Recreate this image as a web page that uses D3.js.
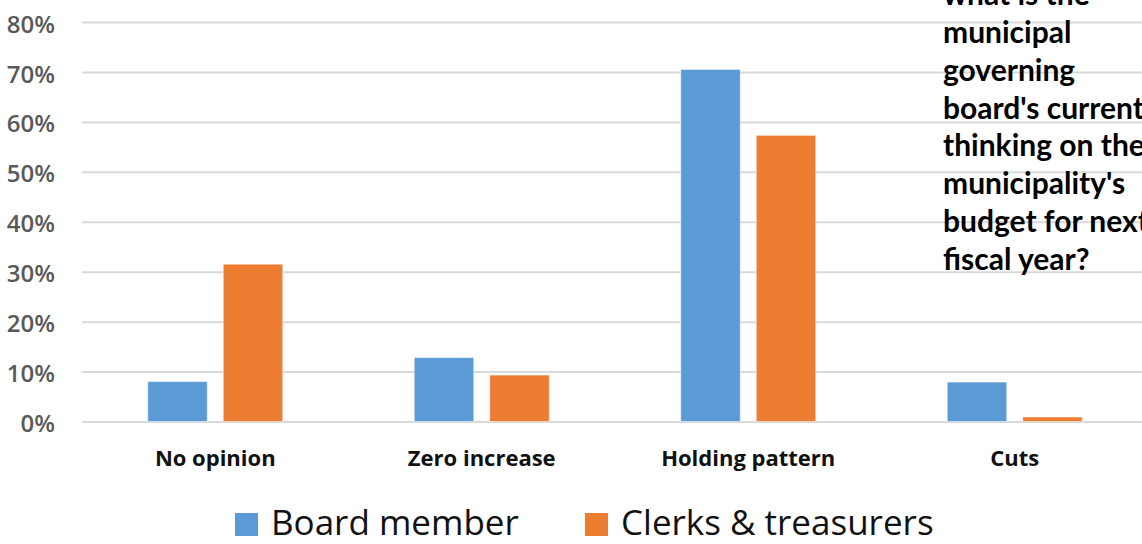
<!DOCTYPE html>
<html>
<head>
<meta charset="utf-8">
<script src="https://cdn.jsdelivr.net/npm/d3@7"></script>
<style>
  body { margin: 0; background: #fff; overflow: hidden; }
  svg { display: block; }
  .grid line { stroke: #d9d9d9; stroke-width: 2; }
  .grid path { display: none; }
  .grid text { font-family: "Open Sans", sans-serif; font-weight: 600; font-size: 24px; fill: #595959; }
</style>
</head>
<body>
<div id="chart"></div>
<script>
// data
var categories = ["No opinion", "Zero increase", "Holding pattern", "Cuts"];
var series = ["Board member", "Clerks & treasurers"];
var boardMember = [8.0, 12.8, 70.5, 7.9];
var clerksTreasurers = [31.5, 9.3, 57.3, 0.9];
var yTicks = [0, 10, 20, 30, 40, 50, 60, 70, 80];
var titleLines = ["what is the", "municipal", "governing", "board's current",
                  "thinking on the", "municipality's", "budget for next", "fiscal year?"];
var colors = ["#5b9bd5", "#ed7d31"];

var W = 1142, H = 544;
var margin = {top: 22, left: 82, bottom: 122.5};
var plotRight = 1148;

var svg = d3.select("#chart").append("svg")
    .attr("width", W)
    .attr("height", H);

var y = d3.scaleLinear()
    .domain([0, 80])
    .range([H - margin.bottom, margin.top]);

var x0 = d3.scaleBand()
    .domain(categories)
    .range([margin.left, plotRight]);

var x1 = d3.scaleBand()
    .domain(series)
    .range([0, 135])
    .paddingInner(16 / 75.5);

// gridlines + y labels
var yAxis = d3.axisLeft(y)
    .tickValues(yTicks)
    .tickSize(-(W - margin.left + 10))
    .tickPadding(27)
    .tickFormat(function(d) { return d + "%"; });

svg.append("g").attr("class", "grid")
    .attr("transform", "translate(" + margin.left + ",0)")
    .call(yAxis)
    .selectAll("text").attr("dy", "0.42em");

// bars
var groups = svg.append("g").attr("class", "bars").selectAll("g")
    .data(categories)
  .enter().append("g")
    .attr("transform", function(d) {
      return "translate(" + (x0(d) + (x0.bandwidth() - 135) / 2) + ",0)";
    });

groups.selectAll("rect")
    .data(function(d, i) {
      return [
        {s: series[0], v: boardMember[i], c: colors[0]},
        {s: series[1], v: clerksTreasurers[i], c: colors[1]}
      ];
    })
  .enter().append("rect")
    .attr("x", function(d) { return x1(d.s); })
    .attr("width", x1.bandwidth())
    .attr("y", function(d) { return y(d.v); })
    .attr("height", function(d) { return y(0) - y(d.v); })
    .attr("fill", function(d) { return d.c; })
    .attr("stroke", "#fff")
    .attr("stroke-opacity", 0.5)
    .attr("stroke-width", 1);

// category labels
svg.append("g").selectAll("text")
    .data(categories)
  .enter().append("text")
    .attr("x", function(d) { return x0(d) + x0.bandwidth() / 2; })
    .attr("y", 466)
    .attr("text-anchor", "middle")
    .attr("font-family", "Open Sans, sans-serif")
    .attr("font-weight", "bold")
    .attr("font-size", "22px")
    .attr("fill", "#111")
    .text(function(d) { return d; });

// legend
var legendX = [235, 585];
var legend = svg.append("g").selectAll("g")
    .data(series)
  .enter().append("g")
    .attr("transform", function(d, i) { return "translate(" + legendX[i] + ",0)"; });

legend.append("rect")
    .attr("x", 0).attr("y", 513)
    .attr("width", 23).attr("height", 23)
    .attr("fill", function(d, i) { return colors[i]; });

legend.append("text")
    .attr("x", 36).attr("y", 535)
    .attr("font-family", "Open Sans, sans-serif")
    .attr("font-size", "35px")
    .attr("fill", "#111")
    .text(function(d) { return d; });

// title (question) on the right
svg.append("g").selectAll("text")
    .data(titleLines)
  .enter().append("text")
    .attr("x", 943)
    .attr("y", function(d, i) { return 5 + i * 37.86; })
    .attr("font-family", "Lato, sans-serif")
    .attr("font-weight", "bold")
    .attr("font-size", "30px")
    .attr("fill", "#000")
    .text(function(d) { return d; });
</script>
</body>
</html>
